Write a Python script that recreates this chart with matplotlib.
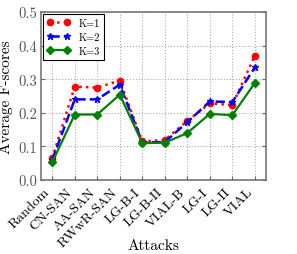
import matplotlib
matplotlib.use("Agg")
import matplotlib.pyplot as plt
import numpy as np

plt.rcParams['font.family'] = 'serif'
plt.rcParams['font.serif'] = ['cmr10']
plt.rcParams['axes.formatter.use_mathtext'] = True
plt.rcParams['mathtext.fontset'] = 'cm'

attacks = ["Random", "CN-SAN", "AA-SAN", "RWwR-SAN", "LG-B-I", "LG-B-II",
           "VIAL-B", "LG-I", "LG-II", "VIAL"]
k1 = [0.065, 0.278, 0.275, 0.296, 0.115, 0.119, 0.176, 0.228, 0.223, 0.370]
k2 = [0.060, 0.240, 0.240, 0.284, 0.112, 0.113, 0.172, 0.234, 0.232, 0.335]
k3 = [0.053, 0.195, 0.195, 0.254, 0.110, 0.111, 0.140, 0.197, 0.193, 0.289]

x = np.arange(len(attacks))

fig = plt.figure(figsize=(2.97, 2.55), dpi=100)
ax = fig.add_axes([0.138, 0.29, 0.758, 0.659])

ax.plot(x, k1, color='red', linestyle=':', linewidth=1.8, marker='o',
        markersize=4.5, label='K=1')
ax.plot(x, k2, color='blue', linestyle='--', linewidth=1.8, marker='*',
        markersize=5, label='K=2')
ax.plot(x, k3, color='green', linestyle='-', linewidth=1.6, marker='D',
        markersize=4.5, label='K=3')

ax.set_xlim(-0.5, len(attacks) - 0.5)
ax.set_ylim(0, 0.5)
ax.set_xticks(x)
ax.set_xticklabels(attacks, rotation=45, ha='right', fontsize=10)
ax.set_yticks([0.0, 0.1, 0.2, 0.3, 0.4, 0.5])
ax.set_yticklabels(["0.0", "0.1", "0.2", "0.3", "0.4", "0.5"], fontsize=10.5,
                   color='#555555')
ax.set_xlabel("Attacks", fontsize=11)
ax.xaxis.set_label_coords(0.5, -0.345)
ax.set_ylabel("Average F-scores", fontsize=11)
ax.yaxis.set_label_coords(-0.125, 0.5)
ax.grid(True, linestyle=':', color='#aaaaaa', linewidth=0.8)
ax.tick_params(direction='in', right=True, top=False, length=3,
               color='#666666', pad=3)
ax.tick_params(axis='x', pad=4)
for s in ax.spines.values():
    s.set_color('#777777')
    s.set_linewidth(1.2)

leg = ax.legend(loc='upper left', numpoints=2, fontsize=7.5, fancybox=False,
                framealpha=1, edgecolor='black', handlelength=2.2,
                borderpad=0.4, labelspacing=0.45, borderaxespad=0.2)
leg.get_frame().set_linewidth(0.8)

fig.savefig("out.png", dpi=100)
